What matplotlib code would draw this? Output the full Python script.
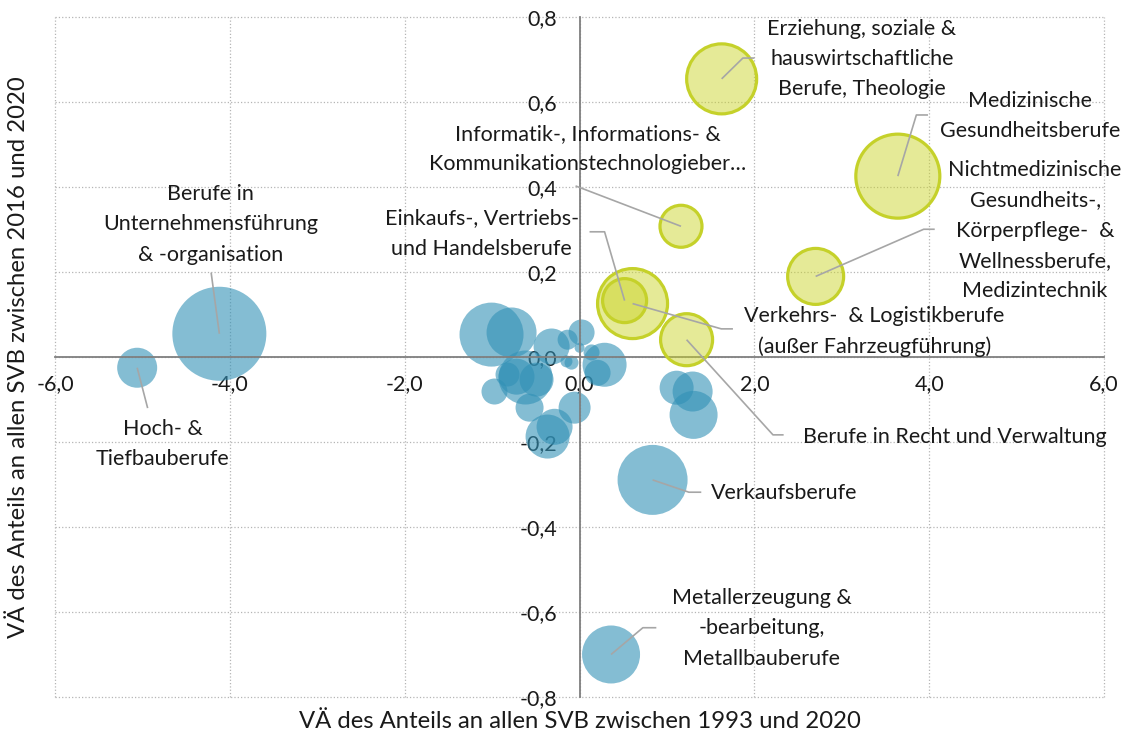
import numpy as np
import matplotlib
matplotlib.use("Agg")
import matplotlib.pyplot as plt

plt.rcParams["font.family"] = ["Lato", "DejaVu Sans"]

# bubble data: change of share 1993-2020 (x), 2016-2020 (y), relative bubble size
# named occupational groups
names = ["Berufe in\nUnternehmensführung\n& -organisation",
         "Hoch- &\nTiefbauberufe",
         "Verkaufsberufe",
         "Metallerzeugung &\n-bearbeitung,\nMetallbauberufe",
         "Erziehung, soziale &\nhauswirtschaftliche\nBerufe, Theologie",
         "Medizinische\nGesundheitsberufe",
         "Nichtmedizinische\nGesundheits-,\nKörperpflege-  &\nWellnessberufe,\nMedizintechnik",
         "Informatik-, Informations- &\nKommunikationstechnologieber…",
         "Verkehrs-  & Logistikberufe\n(außer Fahrzeugführung)",
         "Einkaufs-, Vertriebs-\nund Handelsberufe",
         "Berufe in Recht und Verwaltung"]
named_x = [-4.12, -5.06, 0.835, 0.36, 1.625, 3.64, 2.70, 1.16, 0.606, 0.515, 1.224]
named_y = [0.055, -0.025, -0.289, -0.70, 0.655, 0.426, 0.19, 0.308, 0.126, 0.133, 0.041]
named_size = [47, 20, 35, 29, 35, 42, 28, 21, 35, 22, 26]
named_grows = [False, False, False, False, True, True, True, True, True, True, True]

# other (unlabelled) occupational groups
other_x = [-1.007, -0.778, -0.320, -0.137, 0.023, 0.0, -0.092, -0.15, 0.137, 0.286, 0.206,
           -0.721, -0.492, -0.824, -0.973, -0.572, -0.057, -0.286, -0.366, -0.618,
           1.11, 1.293, 1.304]
other_y = [0.053, 0.058, 0.025, 0.041, 0.058, 0.022, -0.013, -0.01, 0.011, -0.018, -0.037,
           -0.046, -0.053, -0.041, -0.081, -0.119, -0.119, -0.164, -0.187, -0.048,
           -0.072, -0.081, -0.136]
other_size = [32, 25, 18, 10, 13, 5, 7, 6, 8, 22, 13,
              18, 17, 12, 13, 14, 16, 18, 22, 27,
              17, 20, 24]

x_ticks = [-6, -4, -2, 0, 2, 4, 6]
y_ticks = [-0.8, -0.6, -0.4, -0.2, 0.0, 0.2, 0.4, 0.6, 0.8]

# label layout: (text x, text y, ha, leader-line points after the bubble centre)
label_layout = [
    (-4.22, 0.3125, "center", [(-4.214, 0.199)]),
    (-4.77, -0.204, "center", [(-4.94, -0.12)]),
    (1.507, -0.319, "left", [(1.25, -0.318), (1.392, -0.318)]),
    (2.08, -0.638, "center", [(0.724, -0.637), (0.878, -0.637)]),
    (3.23, 0.702, "center", [(1.868, 0.704), (2.0, 0.704)]),
    (5.15, 0.567, "center", [(3.852, 0.570), (3.985, 0.570)]),
    (5.21, 0.298, "center", [(3.936, 0.301), (4.062, 0.301)]),
    (0.09, 0.49, "center", [(-0.046, 0.403)]),
    (3.375, 0.06, "center", [(1.621, 0.0665), (1.754, 0.0665)]),
    (-1.12, 0.291, "center", [(0.286, 0.295), (0.114, 0.295)]),
    (2.55, -0.187, "left", [(2.212, -0.183), (2.334, -0.183)]),
]

BLUE = "#3291b6"
YEL_FILL = "#cad427"
YEL_EDGE = "#c5d12a"
LINE = "#a6a6a6"
TXT = "#1a1a1a"
FS = 15.5


def area(r):
    # radius in px (dpi 100) -> scatter area in pt^2
    return (2 * np.asarray(r, float) * 0.72) ** 2


fig = plt.figure(figsize=(11.29, 7.38), dpi=100)
ax = fig.add_axes([0.0487, 0.0556, 0.9293, 0.921])
ax.set_xlim(-6, 6)
ax.set_ylim(-0.8, 0.8)

ax.scatter(other_x, other_y, s=area(other_size), color=BLUE, alpha=0.6, lw=0, zorder=2)
nx, ny, ns = np.array(named_x), np.array(named_y), np.array(named_size)
g = np.array(named_grows)
ax.scatter(nx[~g], ny[~g], s=area(ns[~g]), color=BLUE, alpha=0.6, lw=0, zorder=2)
for i in np.where(g)[0]:
    ax.scatter(nx[i], ny[i], s=area(ns[i]), facecolor=YEL_FILL, alpha=0.48, lw=0, zorder=3)
    ax.scatter(nx[i], ny[i], s=area(ns[i]), facecolor="none", edgecolor=YEL_EDGE, lw=2.3, zorder=3)

for i, (tx, ty, ha, pts) in enumerate(label_layout):
    xs = [named_x[i]] + [p[0] for p in pts]
    ys = [named_y[i]] + [p[1] for p in pts]
    ax.plot(xs, ys, color=LINE, lw=1.2, zorder=4, solid_capstyle="butt")
    ax.text(tx, ty, names[i], ha=ha, va="center", fontsize=FS, color=TXT,
            linespacing=1.65, zorder=5, clip_on=False)

ax.spines["left"].set_position(("data", 0))
ax.spines["bottom"].set_position(("data", 0))
for s in ("top", "right"):
    ax.spines[s].set_visible(False)
for s in ("left", "bottom"):
    ax.spines[s].set_color("#7f7f7f")
    ax.spines[s].set_linewidth(1.3)

ax.set_xticks(x_ticks)
ax.set_yticks(y_ticks)
ax.set_xticklabels([f"{v:.1f}".replace(".", ",") for v in x_ticks])
ax.set_yticklabels([f"{v:.1f}".replace(".", ",") for v in y_ticks])
ax.tick_params(axis="x", length=0, pad=12, labelsize=FS, labelcolor=TXT)
ax.tick_params(axis="y", length=0, pad=16, labelsize=FS, labelcolor=TXT)
ax.grid(True, ls=":", color="#b5b5b5", lw=0.9)
ax.set_axisbelow(True)
for gl in ax.get_xgridlines() + ax.get_ygridlines():
    gl.set_clip_on(False)

fig.text(0.514, 0.022, "VÄ des Anteils an allen SVB zwischen 1993 und 2020",
         ha="center", va="center", fontsize=17.2, color=TXT)
fig.text(0.016, 0.516, "VÄ des Anteils an allen SVB zwischen 2016 und 2020",
         ha="center", va="center", rotation=90, fontsize=17.2, color=TXT)

fig.savefig("out.png", dpi=100)
